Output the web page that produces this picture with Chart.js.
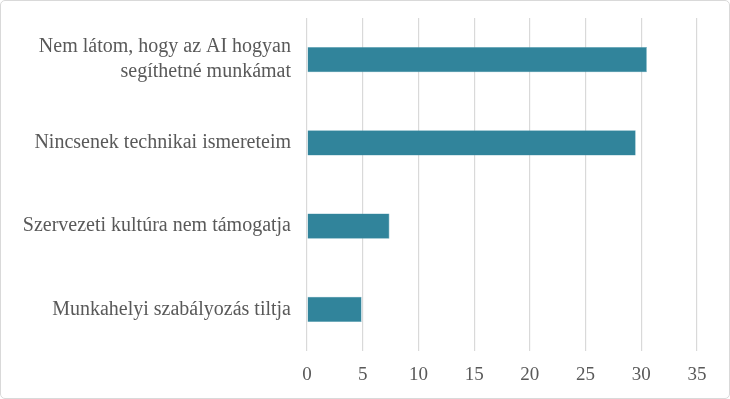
<!DOCTYPE html>
<html>
<head>
<meta charset="utf-8">
<script src="https://cdn.jsdelivr.net/npm/chart.js@4"></script>
<style>
  html, body { margin: 0; padding: 0; background: #fff; }
  #wrap { width: 728px; height: 397px; border: 1px solid #d9d9d9; border-radius: 5px; position: relative; }
</style>
</head>
<body>
<div id="wrap"><canvas id="barChart" width="728" height="397"></canvas></div>
<script>
// kategóriák és értékek
const categories = [
  ['Nem látom, hogy az AI hogyan', 'segíthetné munkámat'],
  'Nincsenek technikai ismereteim',
  'Szervezeti kultúra nem támogatja',
  'Munkahelyi szabályozás tiltja'
];
const values = [30.5, 29.5, 7.4, 4.9];
const xMin = 0, xMax = 35, xStep = 5;

const ctx = document.getElementById('barChart');
new Chart(ctx, {
  type: 'bar',
  data: {
    labels: categories,
    datasets: [{
      data: values,
      backgroundColor: '#31849b',
      borderColor: '#5fa3b6',
      borderWidth: 0.6,
      categoryPercentage: 1,
      barPercentage: 0.305
    }]
  },
  options: {
    indexAxis: 'y',
    responsive: false,
    animation: false,
    events: [],
    layout: { padding: { top: 17, right: 32, bottom: 0, left: 0 } },
    plugins: { legend: { display: false }, tooltip: { enabled: false } },
    scales: {
      x: {
        min: xMin, max: xMax,
        ticks: { stepSize: xStep, color: '#595959', padding: 13,
                 font: { family: 'Liberation Serif', size: 19 } },
        grid: { color: '#d9d9d9', lineWidth: 1.2, drawTicks: false },
        border: { display: false },
        afterFit: s => { s.height = 47; s.paddingLeft = 0; s.paddingRight = 0; }
      },
      y: {
        ticks: { color: '#595959', padding: 16,
                 font: { family: 'Liberation Serif', size: 20, lineHeight: 1.25 } },
        grid: { display: false, drawTicks: false },
        border: { display: false },
        afterFit: s => { s.width = 306; s.paddingTop = 0; s.paddingBottom = 0; }
      }
    }
  }
});
</script>
</body>
</html>
